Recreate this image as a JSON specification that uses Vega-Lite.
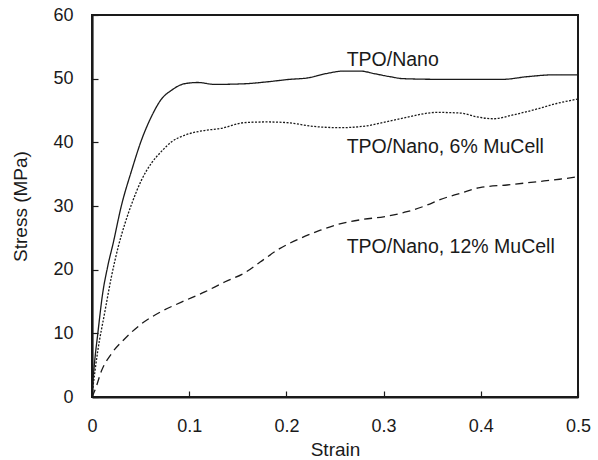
{
  "$schema": "https://vega.github.io/schema/vega-lite/v6.json",
  "width": 486,
  "height": 382,
  "autosize": {"type": "none"},
  "padding": {"left": 92, "top": 15, "right": 20, "bottom": 63},
  "background": "white",
  "config": {
    "view": {"stroke": "#1a1a1a", "strokeWidth": 2},
    "font": "Liberation Sans",
    "axis": {
      "grid": false,
      "domainColor": "#1a1a1a",
      "domainWidth": 2.2,
      "tickColor": "#1a1a1a",
      "tickWidth": 1.2,
      "tickSize": -6,
      "labelFont": "Liberation Sans",
      "labelFontSize": 18,
      "labelColor": "#1a1a1a",
      "titleFont": "Liberation Sans",
      "titleFontSize": 19,
      "titleFontWeight": "normal",
      "titleColor": "#1a1a1a",
      "labelOverlap": false,
      "labelFlush": false
    }
  },
  "datasets": {
    "curves": [
      {"series": "TPO/Nano", "strain": 0, "stress": 0.5},
      {"series": "TPO/Nano", "strain": 0.001, "stress": 2.6},
      {"series": "TPO/Nano", "strain": 0.003, "stress": 6},
      {"series": "TPO/Nano", "strain": 0.006, "stress": 10},
      {"series": "TPO/Nano", "strain": 0.011, "stress": 16.3},
      {"series": "TPO/Nano", "strain": 0.016, "stress": 20.4},
      {"series": "TPO/Nano", "strain": 0.022, "stress": 24.3},
      {"series": "TPO/Nano", "strain": 0.030, "stress": 29.9},
      {"series": "TPO/Nano", "strain": 0.041, "stress": 35.7},
      {"series": "TPO/Nano", "strain": 0.051, "stress": 40.4},
      {"series": "TPO/Nano", "strain": 0.061, "stress": 44.0},
      {"series": "TPO/Nano", "strain": 0.071, "stress": 46.7},
      {"series": "TPO/Nano", "strain": 0.082, "stress": 48.2},
      {"series": "TPO/Nano", "strain": 0.095, "stress": 49.2},
      {"series": "TPO/Nano", "strain": 0.109, "stress": 49.4},
      {"series": "TPO/Nano", "strain": 0.126, "stress": 49.1},
      {"series": "TPO/Nano", "strain": 0.157, "stress": 49.2},
      {"series": "TPO/Nano", "strain": 0.18, "stress": 49.5},
      {"series": "TPO/Nano", "strain": 0.204, "stress": 49.9},
      {"series": "TPO/Nano", "strain": 0.221, "stress": 50.1},
      {"series": "TPO/Nano", "strain": 0.241, "stress": 50.8},
      {"series": "TPO/Nano", "strain": 0.259, "stress": 51.2},
      {"series": "TPO/Nano", "strain": 0.276, "stress": 51.2},
      {"series": "TPO/Nano", "strain": 0.290, "stress": 50.8},
      {"series": "TPO/Nano", "strain": 0.307, "stress": 50.3},
      {"series": "TPO/Nano", "strain": 0.320, "stress": 50.0},
      {"series": "TPO/Nano", "strain": 0.355, "stress": 49.9},
      {"series": "TPO/Nano", "strain": 0.423, "stress": 49.9},
      {"series": "TPO/Nano", "strain": 0.447, "stress": 50.3},
      {"series": "TPO/Nano", "strain": 0.475, "stress": 50.6},
      {"series": "TPO/Nano", "strain": 0.5, "stress": 50.6},

      {"series": "6%", "strain": 0, "stress": 0.3},
      {"series": "6%", "strain": 0.003, "stress": 4},
      {"series": "6%", "strain": 0.006, "stress": 7.3},
      {"series": "6%", "strain": 0.013, "stress": 13.2},
      {"series": "6%", "strain": 0.020, "stress": 18.9},
      {"series": "6%", "strain": 0.027, "stress": 23.6},
      {"series": "6%", "strain": 0.034, "stress": 27.3},
      {"series": "6%", "strain": 0.041, "stress": 30.4},
      {"series": "6%", "strain": 0.051, "stress": 34.1},
      {"series": "6%", "strain": 0.061, "stress": 36.7},
      {"series": "6%", "strain": 0.071, "stress": 38.5},
      {"series": "6%", "strain": 0.082, "stress": 40.1},
      {"series": "6%", "strain": 0.095, "stress": 41.1},
      {"series": "6%", "strain": 0.113, "stress": 41.8},
      {"series": "6%", "strain": 0.133, "stress": 42.2},
      {"series": "6%", "strain": 0.157, "stress": 43.1},
      {"series": "6%", "strain": 0.18, "stress": 43.2},
      {"series": "6%", "strain": 0.2, "stress": 43.1},
      {"series": "6%", "strain": 0.228, "stress": 42.5},
      {"series": "6%", "strain": 0.255, "stress": 42.3},
      {"series": "6%", "strain": 0.283, "stress": 42.6},
      {"series": "6%", "strain": 0.296, "stress": 43.0},
      {"series": "6%", "strain": 0.32, "stress": 43.8},
      {"series": "6%", "strain": 0.355, "stress": 44.7},
      {"series": "6%", "strain": 0.379, "stress": 44.6},
      {"series": "6%", "strain": 0.396, "stress": 44.0},
      {"series": "6%", "strain": 0.413, "stress": 43.7},
      {"series": "6%", "strain": 0.433, "stress": 44.3},
      {"series": "6%", "strain": 0.457, "stress": 45.2},
      {"series": "6%", "strain": 0.478, "stress": 46.1},
      {"series": "6%", "strain": 0.5, "stress": 46.8},

      {"series": "12%", "strain": 0, "stress": 0},
      {"series": "12%", "strain": 0.003, "stress": 1.05},
      {"series": "12%", "strain": 0.010, "stress": 4.2},
      {"series": "12%", "strain": 0.020, "stress": 6.8},
      {"series": "12%", "strain": 0.034, "stress": 9.2},
      {"series": "12%", "strain": 0.051, "stress": 11.5},
      {"series": "12%", "strain": 0.071, "stress": 13.4},
      {"series": "12%", "strain": 0.092, "stress": 14.9},
      {"series": "12%", "strain": 0.116, "stress": 16.5},
      {"series": "12%", "strain": 0.137, "stress": 18.1},
      {"series": "12%", "strain": 0.157, "stress": 19.5},
      {"series": "12%", "strain": 0.173, "stress": 21.2},
      {"series": "12%", "strain": 0.193, "stress": 23.3},
      {"series": "12%", "strain": 0.214, "stress": 24.9},
      {"series": "12%", "strain": 0.235, "stress": 26.2},
      {"series": "12%", "strain": 0.255, "stress": 27.2},
      {"series": "12%", "strain": 0.279, "stress": 27.9},
      {"series": "12%", "strain": 0.30, "stress": 28.3},
      {"series": "12%", "strain": 0.324, "stress": 29.1},
      {"series": "12%", "strain": 0.344, "stress": 30.1},
      {"series": "12%", "strain": 0.358, "stress": 31.0},
      {"series": "12%", "strain": 0.379, "stress": 32.0},
      {"series": "12%", "strain": 0.399, "stress": 32.9},
      {"series": "12%", "strain": 0.427, "stress": 33.3},
      {"series": "12%", "strain": 0.457, "stress": 33.8},
      {"series": "12%", "strain": 0.481, "stress": 34.2},
      {"series": "12%", "strain": 0.5, "stress": 34.6}
    ],
    "labels": [
      {"label": "TPO/Nano", "strain": 0.262, "stress": 52.0},
      {"label": "TPO/Nano, 6% MuCell", "strain": 0.262, "stress": 38.3},
      {"label": "TPO/Nano, 12% MuCell", "strain": 0.262, "stress": 22.6}
    ]
  },
  "layer": [
    {
      "data": {"name": "curves"},
      "mark": {"type": "line", "color": "#1a1a1a", "strokeWidth": 1.3, "interpolate": "monotone"},
      "encoding": {
        "x": {
          "field": "strain", "type": "quantitative",
          "scale": {"domain": [0, 0.5], "nice": false, "zero": true},
          "axis": {"title": "Strain", "values": [0, 0.1, 0.2, 0.3, 0.4, 0.5], "format": "~g", "labelPadding": 26, "titlePadding": 5}
        },
        "y": {
          "field": "stress", "type": "quantitative",
          "scale": {"domain": [0, 60], "nice": false},
          "axis": {"title": "Stress (MPa)", "values": [0, 10, 20, 30, 40, 50, 60], "labelPadding": 25, "titlePadding": 22}
        },
        "detail": {"field": "series"},
        "strokeDash": {
          "field": "series", "type": "nominal",
          "scale": {"domain": ["TPO/Nano", "6%", "12%"], "range": [[1, 0], [2, 1.5], [8, 5]]},
          "legend": null
        }
      }
    },
    {
      "data": {"name": "labels"},
      "mark": {"type": "text", "align": "left", "baseline": "alphabetic", "font": "Liberation Sans", "fontSize": 19.5, "color": "#1a1a1a"},
      "encoding": {
        "x": {"field": "strain", "type": "quantitative"},
        "y": {"field": "stress", "type": "quantitative"},
        "text": {"field": "label"}
      }
    }
  ]
}
